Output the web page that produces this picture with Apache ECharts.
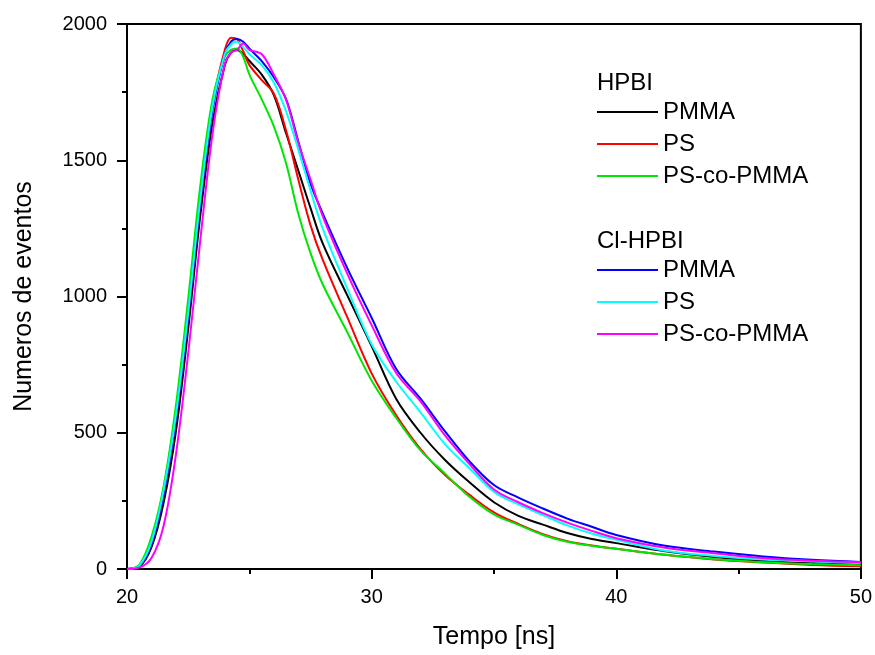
<!DOCTYPE html>
<html>
<head>
<meta charset="utf-8">
<script src="https://cdn.jsdelivr.net/npm/echarts@6/dist/echarts.min.js"></script>
<style>
html,body{margin:0;padding:0;background:#fff;}
#chart{width:875px;height:655px;}
</style>
</head>
<body>
<div id="chart"></div>
<script>
// Time axis (ns)
var times = [20, 20.5, 21, 21.5, 22, 22.5, 23, 23.5, 24, 24.25, 24.5, 24.75, 25, 25.5, 26, 26.5, 27, 27.5, 28, 29, 30, 31, 32, 33, 34, 35, 36, 37, 38, 39, 40, 42, 44, 46, 48, 50];

// HPBI
var hpbiPMMA = [0, 8, 80, 245, 505, 880, 1300, 1640, 1850, 1895, 1905, 1890, 1865, 1815, 1740, 1600, 1463, 1325, 1195, 1005, 818, 625, 500, 400, 318, 245, 195, 163, 132, 110, 95, 65, 44, 30, 21, 16];
var hpbiPS = [0, 12, 105, 295, 575, 955, 1375, 1705, 1905, 1950, 1945, 1900, 1850, 1795, 1745, 1610, 1430, 1262, 1135, 925, 718, 565, 440, 345, 272, 208, 165, 128, 102, 86, 74, 52, 35, 24, 15, 10];
var hpbiPScoPMMA = [0, 15, 118, 305, 600, 990, 1410, 1725, 1880, 1905, 1910, 1880, 1815, 1725, 1625, 1490, 1305, 1160, 1045, 870, 692, 555, 435, 350, 265, 200, 162, 125, 100, 85, 74, 52, 36, 25, 18, 14];

// Cl-HPBI
var clPMMA = [0, 10, 90, 275, 550, 925, 1345, 1685, 1890, 1935, 1945, 1935, 1910, 1865, 1805, 1725, 1570, 1415, 1305, 1105, 922, 735, 625, 505, 395, 308, 262, 222, 185, 155, 125, 85, 64, 46, 34, 26];
var clPS = [0, 12, 100, 290, 565, 940, 1360, 1700, 1890, 1925, 1935, 1915, 1890, 1850, 1785, 1680, 1540, 1390, 1250, 1030, 825, 688, 575, 458, 370, 283, 237, 198, 160, 130, 107, 67, 48, 35, 28, 23];
var clPScoPMMA = [0, 5, 40, 160, 420, 790, 1210, 1600, 1855, 1895, 1905, 1928, 1905, 1890, 1815, 1722, 1565, 1430, 1295, 1085, 895, 720, 615, 490, 385, 292, 245, 205, 170, 140, 113, 78, 58, 40, 30, 25];

// Axis ticks
var xTicks = [20, 30, 40, 50];
var yTicks = [0, 500, 1000, 1500, 2000];

var seriesDefs = [
  {name: 'HPBI|PMMA', data: hpbiPMMA, color: '#000000'},
  {name: 'HPBI|PS', data: hpbiPS, color: '#ff0000'},
  {name: 'HPBI|PS-co-PMMA', data: hpbiPScoPMMA, color: '#00e600'},
  {name: 'Cl-HPBI|PMMA', data: clPMMA, color: '#0000ff'},
  {name: 'Cl-HPBI|PS', data: clPS, color: '#00ffff'},
  {name: 'Cl-HPBI|PS-co-PMMA', data: clPScoPMMA, color: '#ff00ff'}
];

function pair(ys) { return times.map(function (t, i) { return [t, ys[i]]; }); }

var FONT = 'Liberation Sans, Arial, sans-serif';

var chart = echarts.init(document.getElementById('chart'), null, {renderer: 'canvas'});
var option = {
  backgroundColor: '#ffffff',
  animation: false,
  grid: {left: 127, right: 12, top: 24, bottom: 84, show: true, borderColor: '#000', borderWidth: 2, backgroundColor: 'transparent'},
  xAxis: {
    type: 'value', min: xTicks[0], max: xTicks[xTicks.length - 1], interval: 10,
    name: 'Tempo [ns]', nameLocation: 'middle', nameGap: 56,
    nameTextStyle: {fontFamily: FONT, fontSize: 25, color: '#000'},
    axisLine: {show: true, lineStyle: {color: '#000', width: 2}},
    axisTick: {show: true, length: 10, lineStyle: {color: '#000', width: 2}},
    minorTick: {show: true, splitNumber: 2, length: 5, lineStyle: {color: '#000', width: 2}},
    axisLabel: {fontFamily: FONT, fontSize: 20, color: '#000', margin: 18, showMinLabel: true, showMaxLabel: true,
      formatter: function (v) { return String(v); }},
    splitLine: {show: false}
  },
  yAxis: {
    type: 'value', min: yTicks[0], max: yTicks[yTicks.length - 1], interval: 500,
    name: 'Numeros de eventos', nameLocation: 'middle', nameGap: 90,
    nameTextStyle: {fontFamily: FONT, fontSize: 25, color: '#000'},
    axisLine: {show: true, lineStyle: {color: '#000', width: 2}},
    axisTick: {show: true, length: 10, lineStyle: {color: '#000', width: 2}},
    minorTick: {show: true, splitNumber: 2, length: 5, lineStyle: {color: '#000', width: 2}},
    axisLabel: {fontFamily: FONT, fontSize: 20, color: '#000', margin: 20, showMinLabel: true, showMaxLabel: true,
      formatter: function (v) { return String(v); }},
    splitLine: {show: false}
  },
  legend: [
    {
      data: seriesDefs.slice(0, 3).map(function (s) { return s.name; }),
      orient: 'vertical', left: 597, top: 100, padding: 0, itemGap: 8,
      itemWidth: 61, itemHeight: 2, icon: 'rect',
      formatter: function (n) { return n.split('|')[1]; },
      textStyle: {fontFamily: FONT, fontSize: 24, color: '#000', lineHeight: 24},
      selectedMode: false
    },
    {
      data: seriesDefs.slice(3).map(function (s) { return s.name; }),
      orient: 'vertical', left: 597, top: 258, padding: 0, itemGap: 8,
      itemWidth: 61, itemHeight: 2, icon: 'rect',
      formatter: function (n) { return n.split('|')[1]; },
      textStyle: {fontFamily: FONT, fontSize: 24, color: '#000', lineHeight: 24},
      selectedMode: false
    }
  ],
  graphic: [
    {type: 'text', left: 597, top: 71, style: {text: 'HPBI', font: '24px ' + FONT, fill: '#000'}},
    {type: 'text', left: 597, top: 229, style: {text: 'Cl-HPBI', font: '24px ' + FONT, fill: '#000'}}
  ],
  series: seriesDefs.map(function (s) {
    return {
      name: s.name, type: 'line', data: pair(s.data),
      showSymbol: false, symbol: 'none', smooth: 0.35,
      color: s.color,
      lineStyle: {color: s.color, width: 2},
      itemStyle: {color: s.color},
      emphasis: {disabled: true}
    };
  })
};
chart.setOption(option);
</script>
</body>
</html>
